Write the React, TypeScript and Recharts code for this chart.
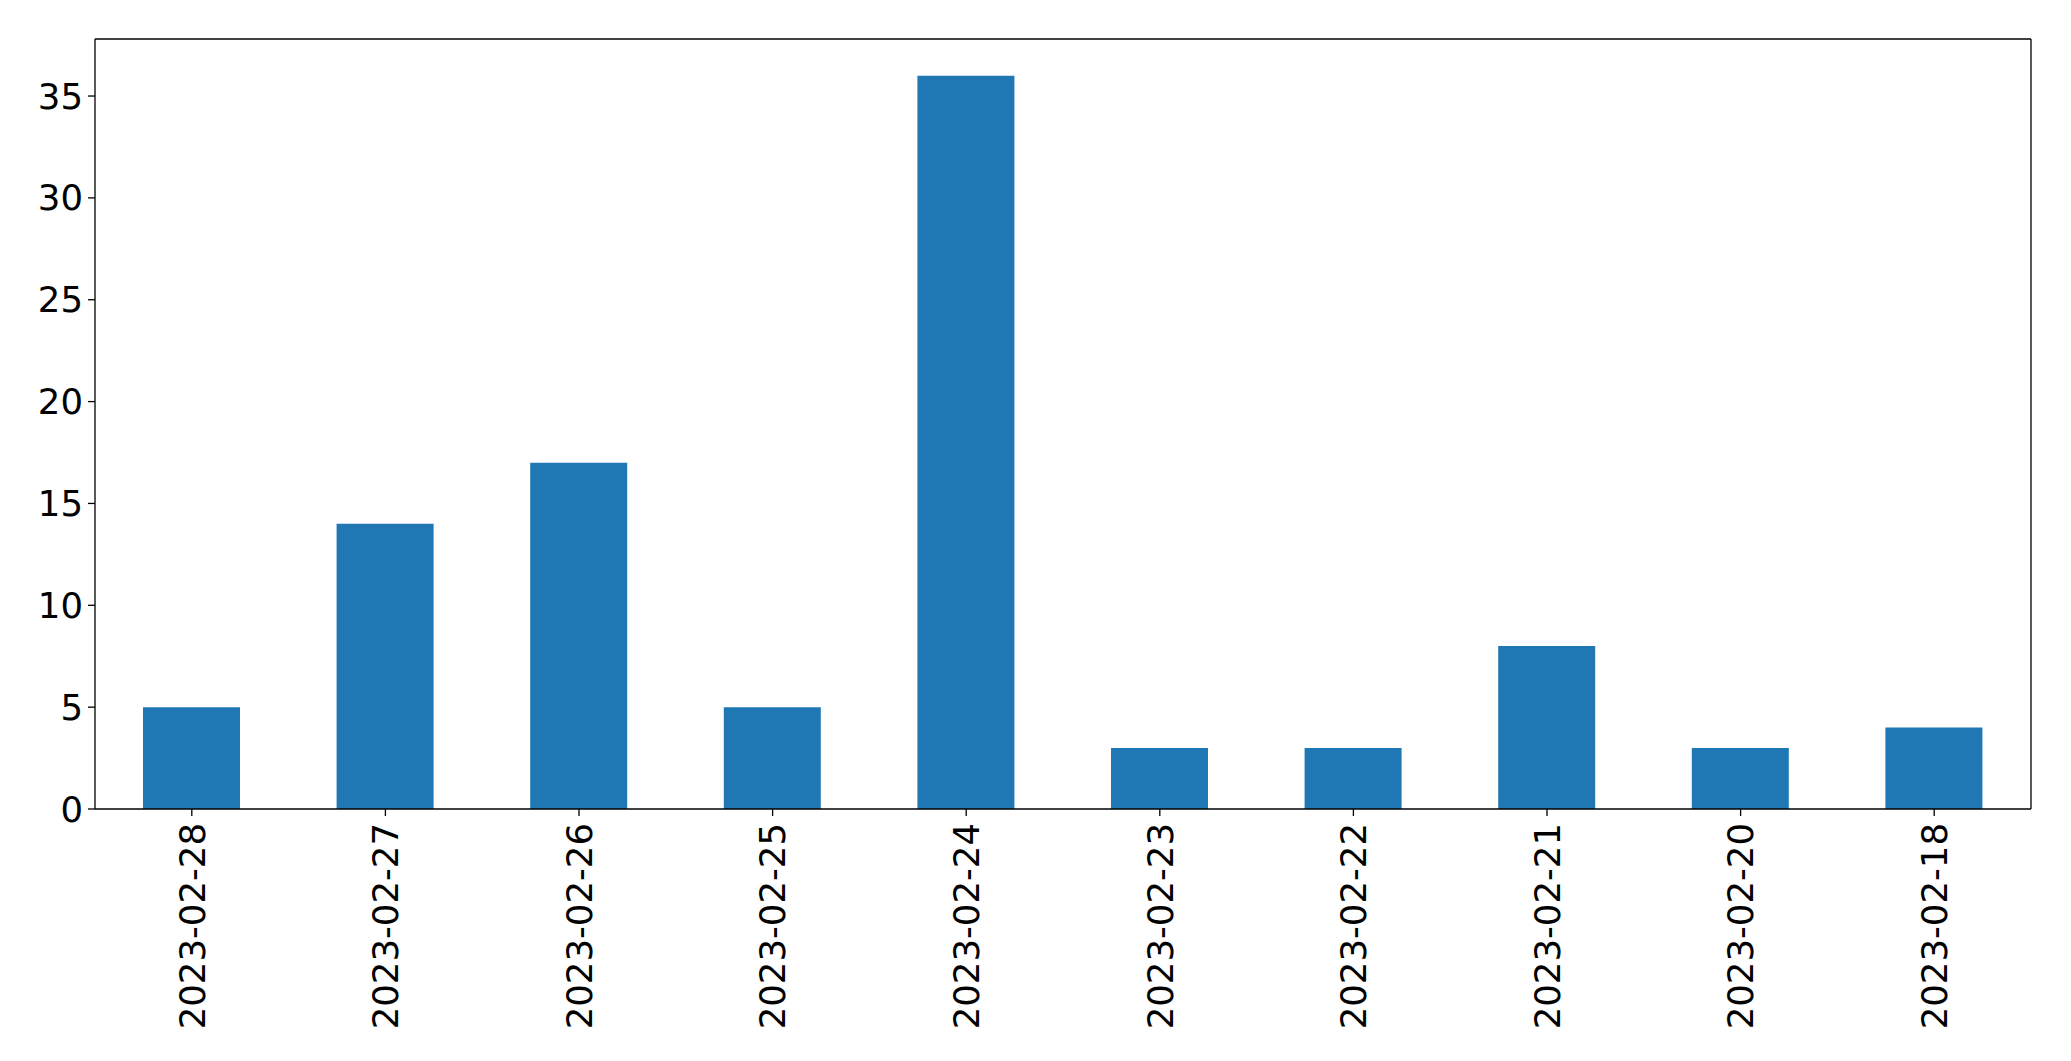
import React from "react";
import { BarChart, Bar, XAxis, YAxis } from "recharts";

const categories = [
  "2023-02-28",
  "2023-02-27",
  "2023-02-26",
  "2023-02-25",
  "2023-02-24",
  "2023-02-23",
  "2023-02-22",
  "2023-02-21",
  "2023-02-20",
  "2023-02-18",
];
const counts = [5, 14, 17, 5, 36, 3, 3, 8, 3, 4];
const yTicks = [0, 5, 10, 15, 20, 25, 30, 35];

const data = categories.map((c, i) => ({ date: c, count: counts[i] }));

const FONT = "DejaVu Sans";
const FS = 35.5;
const AXIS = { stroke: "#000", strokeWidth: 1.3 };

const XTick = (props: any) => {
  const { x, y, payload } = props;
  return (
    <g transform={`translate(${x},${y})`}>
      <text
        transform="rotate(-90)"
        textAnchor="end"
        dy="0.36em"
        fontFamily={FONT}
        fontSize={FS}
        fill="#000"
      >
        {payload.value}
      </text>
    </g>
  );
};

export default function App() {
  return (
    <div style={{ position: "absolute", left: 0, top: 0, background: "#fff" }}>
      <BarChart
        width={2071}
        height={1061}
        data={data}
        margin={{ top: 38, right: 39, left: 0, bottom: 0 }}
        barCategoryGap={0}
      >
        <XAxis
          dataKey="date"
          interval={0}
          height={252}
          tickSize={7}
          tickMargin={7}
          tick={<XTick />}
          axisLine={AXIS}
          tickLine={AXIS}
        />
        <XAxis
          xAxisId="top"
          orientation="top"
          dataKey="date"
          height={1}
          tick={false}
          tickLine={false}
          axisLine={AXIS}
        />
        <YAxis
          width={95}
          domain={[0, 37.8]}
          ticks={yTicks}
          interval={0}
          tickSize={7}
          tickMargin={5}
          tick={{ fontFamily: FONT, fontSize: FS, fill: "#000" }}
          axisLine={AXIS}
          tickLine={AXIS}
        />
        <YAxis
          yAxisId="right"
          orientation="right"
          width={1}
          tick={false}
          tickLine={false}
          axisLine={AXIS}
        />
        <Bar dataKey="count" fill="#1f77b4" barSize={97} isAnimationActive={false} />
      </BarChart>
    </div>
  );
}
